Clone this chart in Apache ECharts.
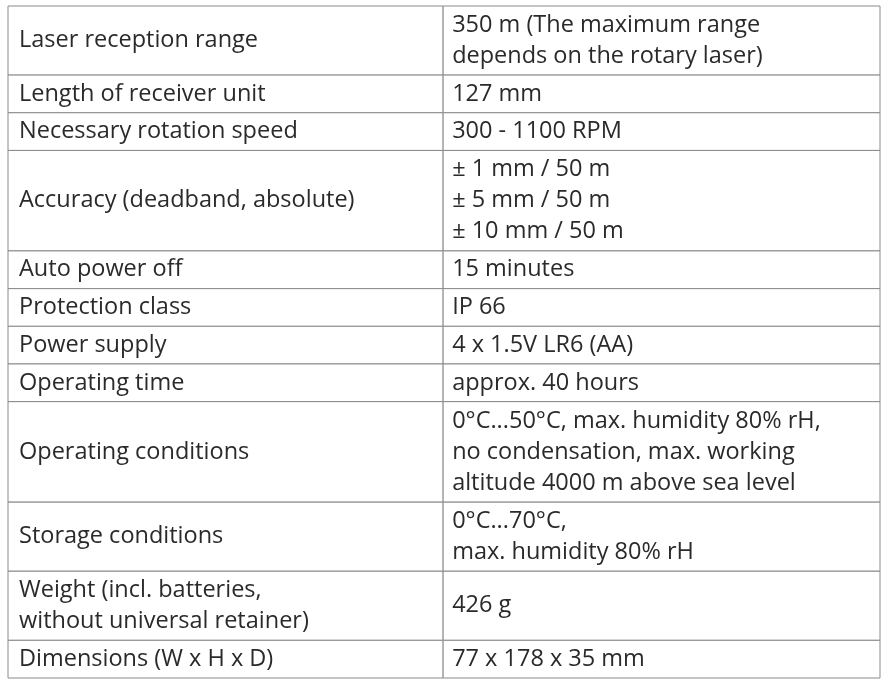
<!DOCTYPE html>
<html><head><meta charset="utf-8">
<script src="https://cdn.jsdelivr.net/npm/echarts@6/dist/echarts.min.js"></script>
<style>html,body{margin:0;padding:0;background:#fff}#c{width:888px;height:685px}</style>
</head><body><div id="c"></div>
<script>
const labels = [
 ["Laser reception range"],
 ["Length of receiver unit"],
 ["Necessary rotation speed"],
 ["Accuracy (deadband, absolute)"],
 ["Auto power off"],
 ["Protection class"],
 ["Power supply"],
 ["Operating time"],
 ["Operating conditions"],
 ["Storage conditions"],
 ["Weight (incl. batteries,","without universal retainer)"],
 ["Dimensions (W x H x D)"]
];
const values = [
 ["350 m (The maximum range","depends on the rotary laser)"],
 ["127 mm"],
 ["300 - 1100 RPM"],
 ["± 1 mm / 50 m","± 5 mm / 50 m","± 10 mm / 50 m"],
 ["15 minutes"],
 ["IP 66"],
 ["4 x 1.5V LR6 (AA)"],
 ["approx. 40 hours"],
 ["0°C...50°C, max. humidity 80% rH,","no condensation, max. working","altitude 4000 m above sea level"],
 ["0°C...70°C,","max. humidity 80% rH"],
 ["426 g"],
 ["77 x 178 x 35 mm"]
];
const rowUnits = labels.map((l,i)=>Math.max(l.length, values[i].length) + 0.2);
const starts = []; let acc = 0;
rowUnits.forEach(u=>{starts.push(acc); acc+=u;});
const total = acc;
const split = 0.499;
const chart = echarts.init(document.getElementById('c'));
const font = '23.5px "Open Sans", sans-serif';
function cell(api, x0, x1, y0, y1, lines, pad){
  const p0 = api.coord([x0, y0]), p1 = api.coord([x1, y1]);
  const h = p1[1]-p0[1];
  return [{
    type:'rect', shape:{x:p0[0], y:p0[1], width:p1[0]-p0[0], height:h},
    style:{fill:'#fff', stroke:'#8a8a8a', lineWidth:1}
  },{
    type:'text', style:{x:p0[0]+pad, y:p0[1]+h/2, text:lines.join('\n'), font:font,
      fill:'#2a2a2a', verticalAlign:'middle', align:'left', lineHeight:31}
  }];
}
chart.setOption({
  animation:false,
  grid:{left:8, right:8, top:6, bottom:7},
  xAxis:{type:'value', min:0, max:1, show:false},
  yAxis:{type:'value', min:0, max:total, inverse:true, show:false},
  series:[{
    type:'custom',
    data: labels.map((l,i)=>[i]),
    renderItem:(params, api)=>{
      const i = api.value(0);
      const y0 = starts[i], y1 = starts[i]+rowUnits[i];
      return {type:'group', children:[
        ...cell(api, 0, split, y0, y1, labels[i], 11),
        ...cell(api, split, 1, y0, y1, values[i], 9)
      ]};
    }
  }]
});
</script></body></html>
